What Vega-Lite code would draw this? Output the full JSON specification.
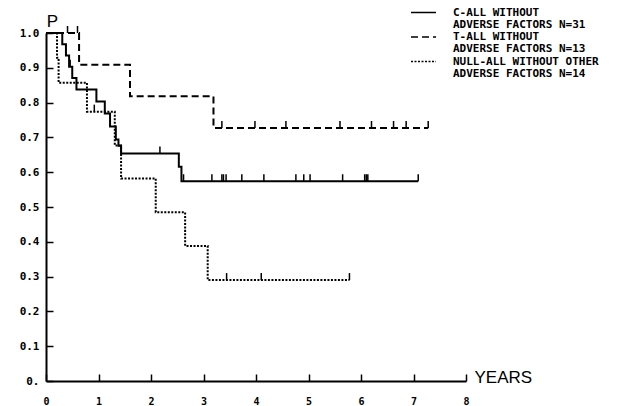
{
  "$schema": "https://vega.github.io/schema/vega-lite/v6.json",
  "width": 420,
  "height": 348,
  "autosize": "none",
  "padding": {"left": 46, "top": 33, "right": 163, "bottom": 25},
  "background": "white",
  "config": {"view": {"stroke": null}, "font": "DejaVu Sans Mono", "style": {"guide-label": {"lineHeight": 12}}},
  "datasets": {
    "curves": [
      {"group": "C-ALL", "t": 0, "s": 1.0},
      {"group": "C-ALL", "t": 0.31, "s": 0.968},
      {"group": "C-ALL", "t": 0.38, "s": 0.935},
      {"group": "C-ALL", "t": 0.44, "s": 0.903},
      {"group": "C-ALL", "t": 0.50, "s": 0.871},
      {"group": "C-ALL", "t": 0.58, "s": 0.838},
      {"group": "C-ALL", "t": 0.96, "s": 0.803},
      {"group": "C-ALL", "t": 1.12, "s": 0.769},
      {"group": "C-ALL", "t": 1.22, "s": 0.731},
      {"group": "C-ALL", "t": 1.33, "s": 0.694},
      {"group": "C-ALL", "t": 1.38, "s": 0.676},
      {"group": "C-ALL", "t": 1.43, "s": 0.654},
      {"group": "C-ALL", "t": 2.53, "s": 0.616},
      {"group": "C-ALL", "t": 2.58, "s": 0.574},
      {"group": "C-ALL", "t": 7.09, "s": 0.574},
      {"group": "T-ALL", "t": 0, "s": 1.0},
      {"group": "T-ALL", "t": 0.63, "s": 0.909},
      {"group": "T-ALL", "t": 1.60, "s": 0.818},
      {"group": "T-ALL", "t": 3.19, "s": 0.727},
      {"group": "T-ALL", "t": 7.28, "s": 0.727},
      {"group": "NULL-ALL", "t": 0, "s": 1.0},
      {"group": "NULL-ALL", "t": 0.21, "s": 0.929},
      {"group": "NULL-ALL", "t": 0.24, "s": 0.857},
      {"group": "NULL-ALL", "t": 0.78, "s": 0.774},
      {"group": "NULL-ALL", "t": 1.31, "s": 0.677},
      {"group": "NULL-ALL", "t": 1.43, "s": 0.582},
      {"group": "NULL-ALL", "t": 2.09, "s": 0.485},
      {"group": "NULL-ALL", "t": 2.65, "s": 0.388},
      {"group": "NULL-ALL", "t": 3.08, "s": 0.290},
      {"group": "NULL-ALL", "t": 5.78, "s": 0.290}
    ],
    "censor": [
      {"group": "C-ALL", "t": 0.46, "s": 0.903},
      {"group": "C-ALL", "t": 2.17, "s": 0.654},
      {"group": "C-ALL", "t": 2.62, "s": 0.574},
      {"group": "C-ALL", "t": 3.16, "s": 0.574},
      {"group": "C-ALL", "t": 3.35, "s": 0.574},
      {"group": "C-ALL", "t": 3.38, "s": 0.574},
      {"group": "C-ALL", "t": 3.43, "s": 0.574},
      {"group": "C-ALL", "t": 3.73, "s": 0.574},
      {"group": "C-ALL", "t": 4.15, "s": 0.574},
      {"group": "C-ALL", "t": 4.76, "s": 0.574},
      {"group": "C-ALL", "t": 4.91, "s": 0.574},
      {"group": "C-ALL", "t": 5.03, "s": 0.574},
      {"group": "C-ALL", "t": 5.65, "s": 0.574},
      {"group": "C-ALL", "t": 6.07, "s": 0.574},
      {"group": "C-ALL", "t": 6.10, "s": 0.574},
      {"group": "C-ALL", "t": 6.13, "s": 0.574},
      {"group": "C-ALL", "t": 7.09, "s": 0.574},
      {"group": "T-ALL", "t": 0.41, "s": 1.0},
      {"group": "T-ALL", "t": 0.60, "s": 1.0},
      {"group": "T-ALL", "t": 3.35, "s": 0.727},
      {"group": "T-ALL", "t": 3.98, "s": 0.727},
      {"group": "T-ALL", "t": 4.57, "s": 0.727},
      {"group": "T-ALL", "t": 5.60, "s": 0.727},
      {"group": "T-ALL", "t": 6.20, "s": 0.727},
      {"group": "T-ALL", "t": 6.62, "s": 0.727},
      {"group": "T-ALL", "t": 6.86, "s": 0.727},
      {"group": "T-ALL", "t": 7.28, "s": 0.727},
      {"group": "NULL-ALL", "t": 0.92, "s": 0.774},
      {"group": "NULL-ALL", "t": 3.44, "s": 0.290},
      {"group": "NULL-ALL", "t": 4.10, "s": 0.290},
      {"group": "NULL-ALL", "t": 5.78, "s": 0.290}
    ]
  },
  "encoding": {
    "x": {
      "field": "t", "type": "quantitative",
      "scale": {"domain": [0, 8], "nice": false, "zero": false},
      "axis": {
        "values": [0, 1, 2, 3, 4, 5, 6, 7, 8],
        "grid": false, "labelOverlap": false,
        "tickSize": -7, "tickWidth": 1.5, "tickColor": "black",
        "domainColor": "black", "domainWidth": 2,
        "labelFont": "DejaVu Sans Mono", "labelFontWeight": "bold", "labelFontSize": 10,
        "labelColor": "black", "labelPadding": 22, "labelFlush": false,
        "title": "YEARS", "titleFont": "Liberation Sans", "titleFontSize": 17,
        "titleFontWeight": "normal", "titleColor": "black",
        "titleX": 428, "titleY": 1, "titleAlign": "left", "titleBaseline": "alphabetic"
      }
    },
    "y": {
      "field": "s", "type": "quantitative",
      "scale": {"domain": [0, 1], "nice": false},
      "axis": {
        "values": [0, 0.1, 0.2, 0.3, 0.4, 0.5, 0.6, 0.7, 0.8, 0.9, 1.0],
        "tickCount": 11,
        "labelExpr": "datum.value == 0 ? '0.' : format(datum.value, '.1f')",
        "grid": false, "labelOverlap": false, "labelBound": false,
        "tickSize": -7, "tickWidth": 1.5, "tickColor": "black",
        "domainColor": "black", "domainWidth": 2,
        "labelFont": "DejaVu Sans Mono", "labelFontWeight": "bold", "labelFontSize": 11,
        "labelColor": "black", "labelPadding": 14,
        "title": "P", "titleFont": "Liberation Sans", "titleFontSize": 17,
        "titleFontWeight": "normal", "titleColor": "black", "titleAngle": 0,
        "titleX": 6, "titleY": -7, "titleAlign": "center", "titleBaseline": "alphabetic"
      }
    }
  },
  "layer": [
    {
      "data": {"name": "curves"},
      "mark": {"type": "line", "interpolate": "step-after", "strokeWidth": 2, "color": "black"},
      "encoding": {
        "strokeDash": {
          "field": "group", "type": "nominal",
          "scale": {"domain": ["C-ALL", "T-ALL", "NULL-ALL"], "range": [[1, 0], [7, 4], [2, 1.5]]},
          "legend": {
            "orient": "none", "legendX": 364, "legendY": -34, "padding": 0,
            "title": null,
            "labelExpr": "datum.label == 'C-ALL' ? ['C-ALL WITHOUT', 'ADVERSE FACTORS N=31'] : datum.label == 'T-ALL' ? ['T-ALL WITHOUT', 'ADVERSE FACTORS N=13'] : ['NULL-ALL WITHOUT OTHER', 'ADVERSE FACTORS N=14']",
            "labelFont": "DejaVu Sans Mono", "labelFontWeight": "bold", "labelFontSize": 11,
            "labelColor": "black", "labelLimit": 0, "labelBaseline": "middle",
            "labelOffset": 16, "rowPadding": -6.5, "gridAlign": "none",
            "symbolType": "stroke", "symbolSize": 625, "symbolStrokeWidth": 1.5,
            "symbolStrokeColor": "black"
          }
        }
      }
    },
    {
      "data": {"name": "censor"},
      "mark": {"type": "point", "shape": "M0,0L0,-1", "size": 196, "filled": false, "stroke": "black", "strokeWidth": 1.5, "opacity": 1}
    }
  ]
}
